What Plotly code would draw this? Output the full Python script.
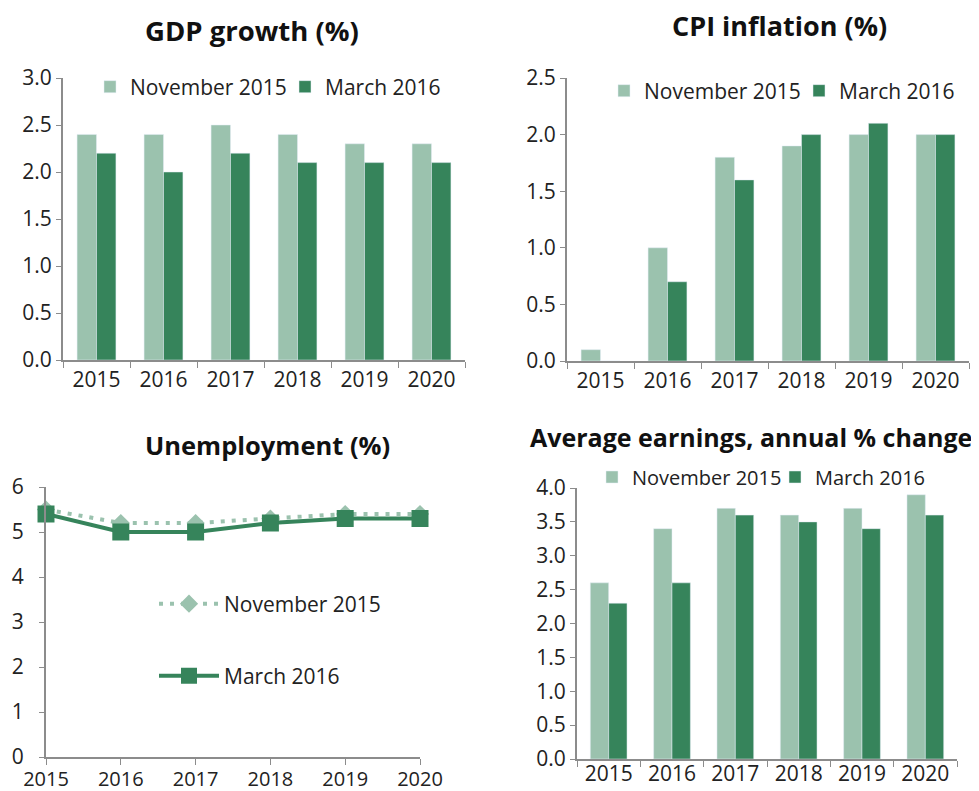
import plotly.graph_objects as go

years = ["2015", "2016", "2017", "2018", "2019", "2020"]
years_num = [2015, 2016, 2017, 2018, 2019, 2020]
series_names = ["November 2015", "March 2016"]

gdp_nov = [2.4, 2.4, 2.5, 2.4, 2.3, 2.3]
gdp_mar = [2.2, 2.0, 2.2, 2.1, 2.1, 2.1]
cpi_nov = [0.1, 1.0, 1.8, 1.9, 2.0, 2.0]
cpi_mar = [0.0, 0.7, 1.6, 2.0, 2.1, 2.0]
unemp_nov = [5.5, 5.2, 5.2, 5.3, 5.4, 5.4]
unemp_mar = [5.4, 5.0, 5.0, 5.2, 5.3, 5.3]
earn_nov = [2.6, 3.4, 3.7, 3.6, 3.7, 3.9]
earn_mar = [2.3, 2.6, 3.6, 3.5, 3.4, 3.6]

titles = ["GDP growth (%)", "CPI inflation (%)", "Unemployment (%)",
          "Average earnings, annual % change"]

LIGHT = "#9bc2ae"
DARK = "#36845b"
AXIS = "#8c8c8c"
FONT = "Open Sans"
OFF = 8  # page body margin
W, H = 979 - OFF, 791 - OFF


def fx(a):
    return (a - OFF) / W


def fy(a):
    return 1 - (a - OFF) / H


def px_x(a, b):
    return [fx(a), fx(b)]


def px_y(top, bottom):
    return [fy(bottom), fy(top)]


fig = go.Figure()

# GDP
fig.add_trace(go.Bar(x=years, y=gdp_nov, name=series_names[0], marker_color=LIGHT,
                     xaxis="x", yaxis="y", legend="legend"))
fig.add_trace(go.Bar(x=years, y=gdp_mar, name=series_names[1], marker_color=DARK,
                     xaxis="x", yaxis="y", legend="legend"))
# CPI
fig.add_trace(go.Bar(x=years, y=cpi_nov, name=series_names[0], marker_color=LIGHT,
                     xaxis="x2", yaxis="y2", legend="legend2"))
fig.add_trace(go.Bar(x=years, y=cpi_mar, name=series_names[1], marker_color=DARK,
                     xaxis="x2", yaxis="y2", legend="legend2"))
# Unemployment
fig.add_trace(go.Scatter(x=years_num, y=unemp_nov, name=series_names[0], mode="lines+markers",
                         line=dict(color=LIGHT, width=4, dash="4px,7px"),
                         marker=dict(symbol="diamond", size=14, color=LIGHT),
                         xaxis="x3", yaxis="y3", legend="legend3", cliponaxis=False))
fig.add_trace(go.Scatter(x=years_num, y=unemp_mar, name=series_names[1], mode="lines+markers",
                         line=dict(color=DARK, width=4),
                         marker=dict(symbol="square", size=17, color=DARK),
                         xaxis="x3", yaxis="y3", legend="legend4", cliponaxis=False))
# Earnings
fig.add_trace(go.Bar(x=years, y=earn_nov, name=series_names[0], marker_color=LIGHT,
                     xaxis="x4", yaxis="y4", legend="legend5"))
fig.add_trace(go.Bar(x=years, y=earn_mar, name=series_names[1], marker_color=DARK,
                     xaxis="x4", yaxis="y4", legend="legend5"))

tickfont = dict(family=FONT, size=21, color="#222")
common_y = dict(showgrid=False, zeroline=False, showline=True, linecolor=AXIS, linewidth=2,
                ticks="outside", ticklen=5, tickcolor=AXIS, tickwidth=1, tickfont=tickfont,
                automargin=False)
common_xcat = dict(type="category", showgrid=False, showline=True, linecolor=AXIS, linewidth=2,
                   ticks="outside", tickson="boundaries", ticklen=6, tickcolor=AXIS, tickwidth=1,
                   tickfont=tickfont, automargin=False)

fig.update_layout(
    width=W, height=H,
    margin=dict(l=0, r=0, t=0, b=0, autoexpand=False),
    paper_bgcolor="white", plot_bgcolor="white",
    font=dict(family=FONT, color="#222"),
    barmode="group", bargap=0.42, bargroupgap=0,
    xaxis=dict(domain=px_x(63, 465), anchor="y", **common_xcat),
    yaxis=dict(domain=px_y(78, 360), anchor="x", range=[0, 3.0], dtick=0.5, tickformat=".1f", **common_y),
    xaxis2=dict(domain=px_x(567, 969), anchor="y2", **common_xcat),
    yaxis2=dict(domain=px_y(78, 361), anchor="x2", range=[0, 2.5], dtick=0.5, tickformat=".1f", **common_y),
    xaxis3=dict(domain=px_x(46, 420), anchor="y3", range=[2015, 2020], dtick=1, showgrid=False,
                zeroline=False, showline=True, linecolor=AXIS, linewidth=2, ticks="outside",
                ticklen=6, tickcolor=AXIS, tickfont=dict(family=FONT, size=20, color="#222"),
                automargin=False, ticklabelstandoff=-3),
    yaxis3=dict(domain=px_y(487, 757), anchor="x3", range=[0, 6], dtick=1, ticklabelstandoff=11, **common_y),
    xaxis4=dict(domain=px_x(577, 957), anchor="y4", ticklabelstandoff=-5, **common_xcat),
    yaxis4=dict(domain=px_y(488, 759), anchor="x4", range=[0, 4.0], dtick=0.5, tickformat=".1f", **common_y),
)

leg_common = dict(orientation="h", bgcolor="rgba(0,0,0,0)",
                  xanchor="left", yanchor="middle", entrywidthmode="pixels")
fig.update_layout(
    legend=dict(x=fx(90), y=fy(87), entrywidth=150, font=dict(family=FONT, size=21, color="#222"), **leg_common),
    legend2=dict(x=fx(604), y=fy(91), entrywidth=150, font=dict(family=FONT, size=21, color="#222"), **leg_common),
    legend3=dict(x=fx(154), y=fy(604), itemwidth=60, font=dict(family=FONT, size=21, color="#222"), **leg_common),
    legend4=dict(x=fx(154), y=fy(676), itemwidth=60, font=dict(family=FONT, size=21, color="#222"), **leg_common),
    legend5=dict(x=fx(592), y=fy(477), entrywidth=138, font=dict(family=FONT, size=20, color="#222"), **leg_common),
)

title_sizes = [27.5, 27, 25.5, 25]
title_pos = [(252, 31), (779, 26), (267, 445), (751, 437)]
for t, s, (cx, cy) in zip(titles, title_sizes, title_pos):
    fig.add_annotation(text="<b>" + t + "</b>", x=fx(cx), y=fy(cy), xref="paper", yref="paper",
                       showarrow=False, xanchor="center", yanchor="middle",
                       font=dict(family=FONT, size=s, color="#111"))

fig.write_html("out.html")
